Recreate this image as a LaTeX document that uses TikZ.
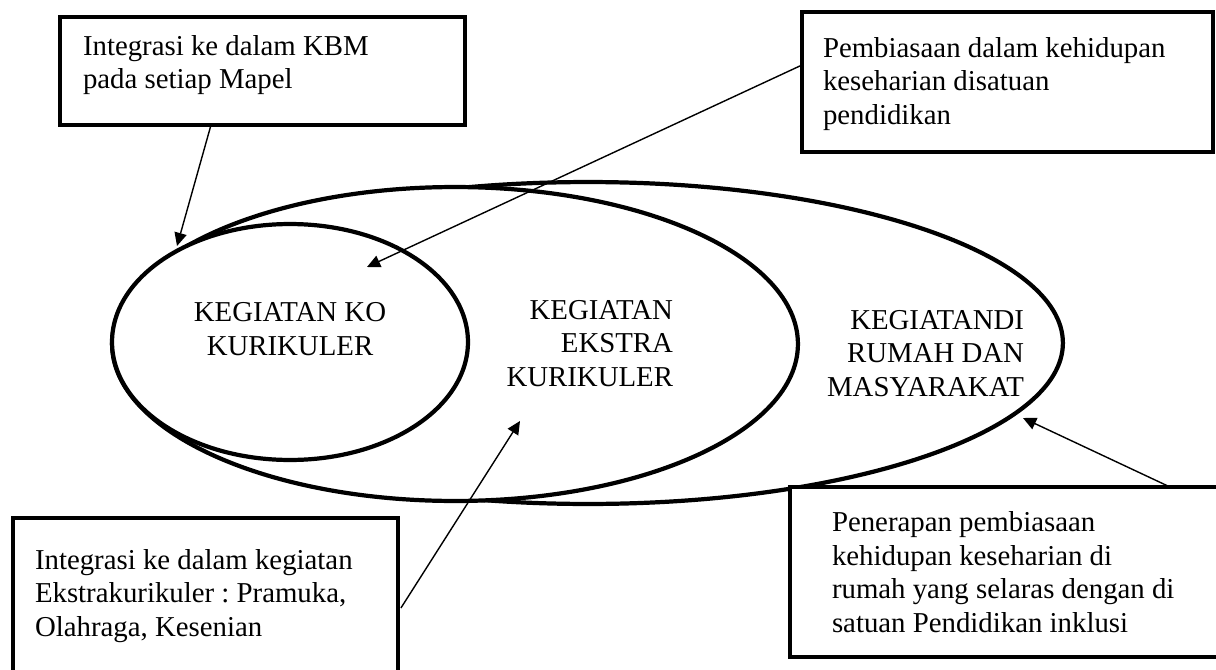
\documentclass[tikz,border=0pt]{standalone}
\usepackage{fontspec}
\setmainfont{Liberation Serif}
\usetikzlibrary{arrows.meta,shapes.geometric,calc}
\begin{document}
\begin{tikzpicture}[x=0.02cm,y=-0.02cm,
  box/.style={draw,line width=2.3pt,rectangle,fill=white,inner sep=0pt,outer sep=0pt,anchor=north west},
  oval/.style={draw,line width=2.4pt,ellipse,fill=white,inner sep=0pt,outer sep=0pt},
  txt/.style={font=\fontsize{16.4pt}{19pt}\selectfont\frenchspacing,inner sep=0pt,outer sep=0pt},
  conn/.style={line width=0.8pt,-{Triangle[length=7.5pt,width=7pt]}}]
\clip (0,0) rectangle (1216,669);
\useasboundingbox (0,0) rectangle (1216,669);
% ellipses (back to front)
\node[oval,minimum width=19cm,minimum height=6.44cm] (e3) at (588,343) {};
\node[oval,minimum width=13.72cm,minimum height=6.28cm] (e2) at (455,344) {};
\node[oval,minimum width=7.12cm,minimum height=4.72cm] (e1) at (290,342) {};
% (anchor base = baseline of the last line)
\node[txt,anchor=base,align=center] (t1) at (290,355) {KEGIATAN KO\\KURIKULER};
\node[txt,anchor=base east,align=right] (t2) at (673,386) {KEGIATAN\\EKSTRA\\KURIKULER};
\node[txt,anchor=base east,align=right] (t3) at (1024,396) {KEGIATANDI\\RUMAH DAN\\MASYARAKAT};
% boxes
\node[box,minimum width=8.1cm,minimum height=2.16cm] (bA) at (60,17) {};
\node[box,minimum width=8.22cm,minimum height=2.8cm] (bB) at (802,12) {};
\node[box,minimum width=7.7cm,minimum height=3.4cm] (bC) at (13,518) {};
\node[box,minimum width=8.8cm,minimum height=3.4cm] (bD) at (790,487) {};
\node[txt,anchor=base west,align=left] (tA) at (83,88.5) {Integrasi ke dalam KBM\\pada setiap Mapel};
\node[txt,anchor=base west,align=left] (tB) at (823,124) {Pembiasaan dalam kehidupan\\keseharian disatuan\\pendidikan};
\node[txt,anchor=base west,align=left] (tC) at (35,636) {Integrasi ke dalam kegiatan\\Ekstrakurikuler : Pramuka,\\Olahraga, Kesenian};
\node[txt,anchor=base west,align=left] (tD) at (832,632) {Penerapan pembiasaan\\kehidupan keseharian di\\rumah yang selaras dengan di\\satuan Pendidikan inklusi};
% arrow targets
\coordinate (pA) at (177,246);
\coordinate (pB) at (367,267);
\coordinate (pC) at (520,421);
\coordinate (pD) at (1023,418);
\draw[conn] ($(bA.south west)+(151,0)$) -- (pA);
\draw[conn] ($(bB.north west)+(0,53)$) -- (pB);
\draw[conn] ($(bC.north east)+(3,90)$) -- (pC);
\draw[conn] ($(bD.north west)+(380,0)$) -- (pD);
\end{tikzpicture}
\end{document}
